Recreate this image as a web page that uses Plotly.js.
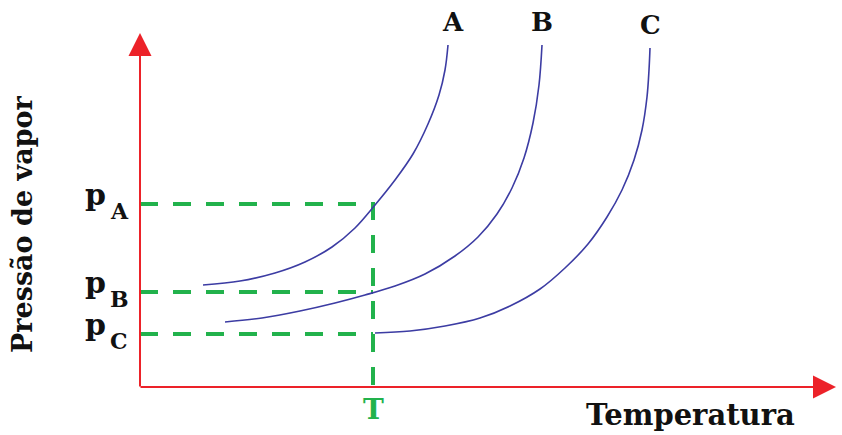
<!DOCTYPE html>
<html>
<head>
<meta charset="utf-8">
<script src="https://cdn.plot.ly/plotly-3.0.1.min.js"></script>
<style>
  html, body { margin: 0; padding: 0; background: #fff; }
  #graph { width: 842px; height: 435px; }
</style>
</head>
<body>
<div id="graph"></div>
<script>
// curves (x = temperatura, y = pressao; picture units, y grows downwards)
const curveAx = [203, 240, 275, 305, 332, 355, 375, 395, 413, 428, 439, 445, 448];
const curveAy = [285, 281, 273, 262, 247, 228, 205, 180, 154, 124, 95, 70, 45];
const curveBx = [225, 262, 300, 335, 365, 395, 425, 455, 478, 497, 512, 524, 533, 539, 542];
const curveBy = [322, 318, 311, 303, 295, 286, 274, 256, 237, 214, 188, 158, 123, 85, 45];
const curveCx = [375, 410, 445, 480, 510, 540, 565, 588, 607, 622, 634, 642, 647, 649, 650];
const curveCy = [333, 331, 326, 318, 306, 289, 268, 244, 217, 190, 160, 130, 97, 70, 48];

const curveNames = ['A', 'B', 'C'];
const pressureSubs = ['A', 'B', 'C'];
const pressureLevels = [204, 292, 334];
const tempT = 373;
const originX = 140, originY = 387;

const blue = '#3c3ca3';
const green = '#22b24c';
const red = '#ec2229';
const serif = 'DejaVu Serif';

function curve(xs, ys) {
    return {
        x: xs, y: ys, type: 'scatter', mode: 'lines',
        line: { color: blue, width: 1.6, shape: 'spline', smoothing: 1 },
        hoverinfo: 'skip'
    };
}

// green guides: pA -> T -> down to the axis, plus pB and pC
const guideX = [originX, tempT, tempT, null, originX, tempT, null, originX, tempT];
const guideY = [pressureLevels[0], pressureLevels[0], originY + 4, null,
                pressureLevels[1], pressureLevels[1], null, pressureLevels[2], pressureLevels[2]];
let guides = {
    x: guideX, y: guideY, type: 'scatter', mode: 'lines',
    line: { color: green, width: 4, dash: '18px,15px' },
    hoverinfo: 'skip'
};

const data = [guides, curve(curveAx, curveAy), curve(curveBx, curveBy), curve(curveCx, curveCy)];

const annotations = [];
// axes as arrows
annotations.push({ x: originX, y: 33, ax: originX, ay: originY + 1, xref: 'x', yref: 'y', axref: 'x', ayref: 'y',
    text: '', showarrow: true, arrowhead: 2, arrowwidth: 2, arrowsize: 2.3, arrowcolor: red });
annotations.push({ x: 836, y: originY, ax: originX - 1, ay: originY, xref: 'x', yref: 'y', axref: 'x', ayref: 'y',
    text: '', showarrow: true, arrowhead: 2, arrowwidth: 2, arrowsize: 2.3, arrowcolor: red });

const tops = [[453, 22], [542, 22], [650, 25]];
curveNames.forEach(function (n, i) {
    annotations.push({ x: tops[i][0], y: tops[i][1], xref: 'x', yref: 'y', text: n, showarrow: false,
        font: { family: serif, size: 26, color: '#111', weight: 'bold' } });
});
// p with a big subscript, done as two pieces so the subscript can stay large
pressureSubs.forEach(function (t, i) {
    annotations.push({ x: 95, y: pressureLevels[i] - 10, xref: 'x', yref: 'y', text: 'p', showarrow: false,
        font: { family: serif, size: 30, color: '#111', weight: 'bold' } });
    annotations.push({ x: 119, y: pressureLevels[i] + 7, xref: 'x', yref: 'y', text: t, showarrow: false,
        font: { family: serif, size: 22, color: '#111', weight: 'bold' } });
});
annotations.push({ x: tempT, y: 409, xref: 'x', yref: 'y', text: 'T', showarrow: false,
    font: { family: serif, size: 28, color: green, weight: 'bold' } });
annotations.push({ x: 690, y: 415, xref: 'x', yref: 'y', text: 'Temperatura', showarrow: false,
    font: { family: serif, size: 29, color: '#111', weight: 'bold' } });
annotations.push({ x: 22, y: 224, xref: 'x', yref: 'y', text: 'Pressão de vapor', showarrow: false, textangle: -90,
    font: { family: serif, size: 27, color: '#111', weight: 'bold' } });

let layout = {
    width: 842,
    height: 435,
    margin: { l: 0, r: 0, t: 0, b: 0 },
    paper_bgcolor: '#ffffff',
    plot_bgcolor: '#ffffff',
    showlegend: false,
    xaxis: { range: [0, 842], visible: false, fixedrange: true },
    yaxis: { range: [435, 0], visible: false, fixedrange: true },
    annotations: annotations
};

Plotly.newPlot('graph', data, layout, { staticPlot: true });
</script>
</body>
</html>
